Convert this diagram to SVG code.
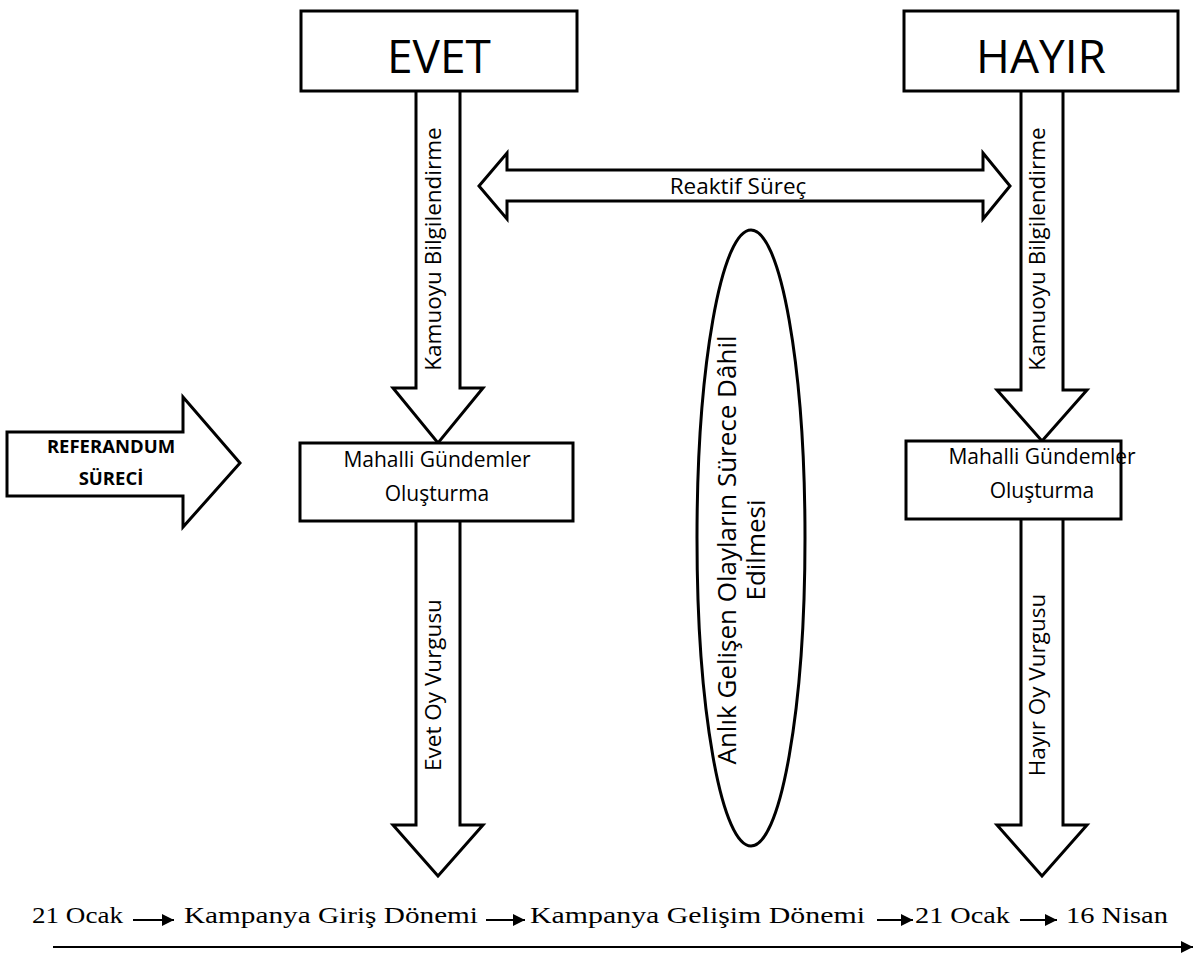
<svg xmlns="http://www.w3.org/2000/svg" width="1203" height="955" viewBox="0 0 1203 955">
<defs>
<style>
.box{fill:#fff;stroke:#000;stroke-width:3}
.arr{fill:#fff;stroke:#000;stroke-width:3;stroke-linejoin:miter}
.big{font-family:"Open Sans","Liberation Sans",sans-serif;font-size:46px;fill:#000;text-anchor:middle}
.lbl{font-family:"Open Sans","Liberation Sans",sans-serif;font-size:21px;fill:#000;text-anchor:middle}
.rot{font-family:"Open Sans","Liberation Sans",sans-serif;font-size:22.5px;fill:#000;text-anchor:middle}
.ell{font-family:"Open Sans","Liberation Sans",sans-serif;font-size:26px;fill:#000;text-anchor:middle}
.bold{font-family:"Open Sans","Liberation Sans",sans-serif;font-size:18.5px;font-weight:bold;fill:#000;text-anchor:middle}
.tl{font-family:"Liberation Serif","Times New Roman",serif;font-size:23px;fill:#000}
.tline{stroke:#000;stroke-width:2;fill:none}
</style>
<marker id="ah" viewBox="0 0 10 10" refX="10" refY="5" markerWidth="8" markerHeight="6" markerUnits="strokeWidth" orient="auto">
<path d="M0,0 L10,5 L0,10 Z" fill="#000"/>
</marker>
</defs>

<g id="connectors">
<path id="evet-up" class="arr" d="M416,90 L416,388 L393,388 L438,443 L483,388 L460,388 L460,90"/>
<path id="hayir-up" class="arr" d="M1021,90 L1021,390 L997,390 L1042,441 L1087,390 L1063,390 L1063,90"/>
<path id="evet-down" class="arr" d="M416,521 L416,825 L393,825 L438,876 L483,825 L460,825 L460,521"/>
<path id="hayir-down" class="arr" d="M1021,519 L1021,825 L997,825 L1042,876 L1087,825 L1063,825 L1063,519"/>
<path id="reaktif" class="arr" d="M479,186 L507,153 L507,170 L983,170 L983,153 L1010,186 L983,219 L983,201 L507,201 L507,219 Z"/>
<text class="rot" x="738" y="194">Reaktif Süreç</text>
<text class="rot" transform="translate(441,249) rotate(-90)">Kamuoyu Bilgilendirme</text>
<text class="rot" transform="translate(1045,249) rotate(-90)">Kamuoyu Bilgilendirme</text>
<text class="rot" transform="translate(441,685) rotate(-90)">Evet Oy Vurgusu</text>
<text class="rot" transform="translate(1045,685) rotate(-90)">Hayır Oy Vurgusu</text>
</g>

<g id="evet">
<rect class="box" x="301" y="11" width="276" height="80"/>
<text class="big" x="439" y="73">EVET</text>
</g>

<g id="hayir">
<rect class="box" x="904" y="11" width="274" height="80"/>
<text class="big" x="1041" y="73">HAYIR</text>
</g>

<g id="referandum">
<path class="arr" d="M7,432 L183,432 L183,397 L240,463 L183,527 L183,496 L7,496 Z"/>
<text class="bold" x="111" y="453">REFERANDUM</text>
<text class="bold" x="111" y="485">SÜRECİ</text>
</g>

<g id="mahalli-evet">
<rect class="box" x="300" y="443" width="273" height="78"/>
<text class="lbl" x="437" y="467">Mahalli Gündemler</text>
<text class="lbl" x="437" y="501">Oluşturma</text>
</g>

<g id="mahalli-hayir">
<rect class="box" x="906" y="441" width="215" height="78"/>
<text class="lbl" x="1042" y="464">Mahalli Gündemler</text>
<text class="lbl" x="1042" y="498">Oluşturma</text>
</g>

<g id="anlik">
<ellipse class="box" cx="751" cy="538" rx="54" ry="308"/>
<text class="ell" transform="translate(736,550) rotate(-90)">Anlık Gelişen Olayların Sürece Dâhil</text>
<text class="ell" transform="translate(765,550) rotate(-90)">Edilmesi</text>
</g>

<g id="timeline">
<text class="tl" x="32" y="923" textLength="91" lengthAdjust="spacingAndGlyphs">21 Ocak</text>
<line class="tline" x1="133" y1="920" x2="174" y2="920" marker-end="url(#ah)"/>
<text class="tl" x="184" y="923" textLength="294" lengthAdjust="spacingAndGlyphs">Kampanya Giriş Dönemi</text>
<line class="tline" x1="486" y1="920" x2="525" y2="920" marker-end="url(#ah)"/>
<text class="tl" x="530" y="923" textLength="335" lengthAdjust="spacingAndGlyphs">Kampanya Gelişim Dönemi</text>
<line class="tline" x1="877" y1="920" x2="913" y2="920" marker-end="url(#ah)"/>
<text class="tl" x="915" y="923" textLength="95" lengthAdjust="spacingAndGlyphs">21 Ocak</text>
<line class="tline" x1="1020" y1="920" x2="1057" y2="920" marker-end="url(#ah)"/>
<text class="tl" x="1066" y="923" textLength="102" lengthAdjust="spacingAndGlyphs">16 Nisan</text>
<line class="tline" x1="53" y1="947" x2="1193" y2="947" marker-end="url(#ah)"/>
</g>
</svg>
